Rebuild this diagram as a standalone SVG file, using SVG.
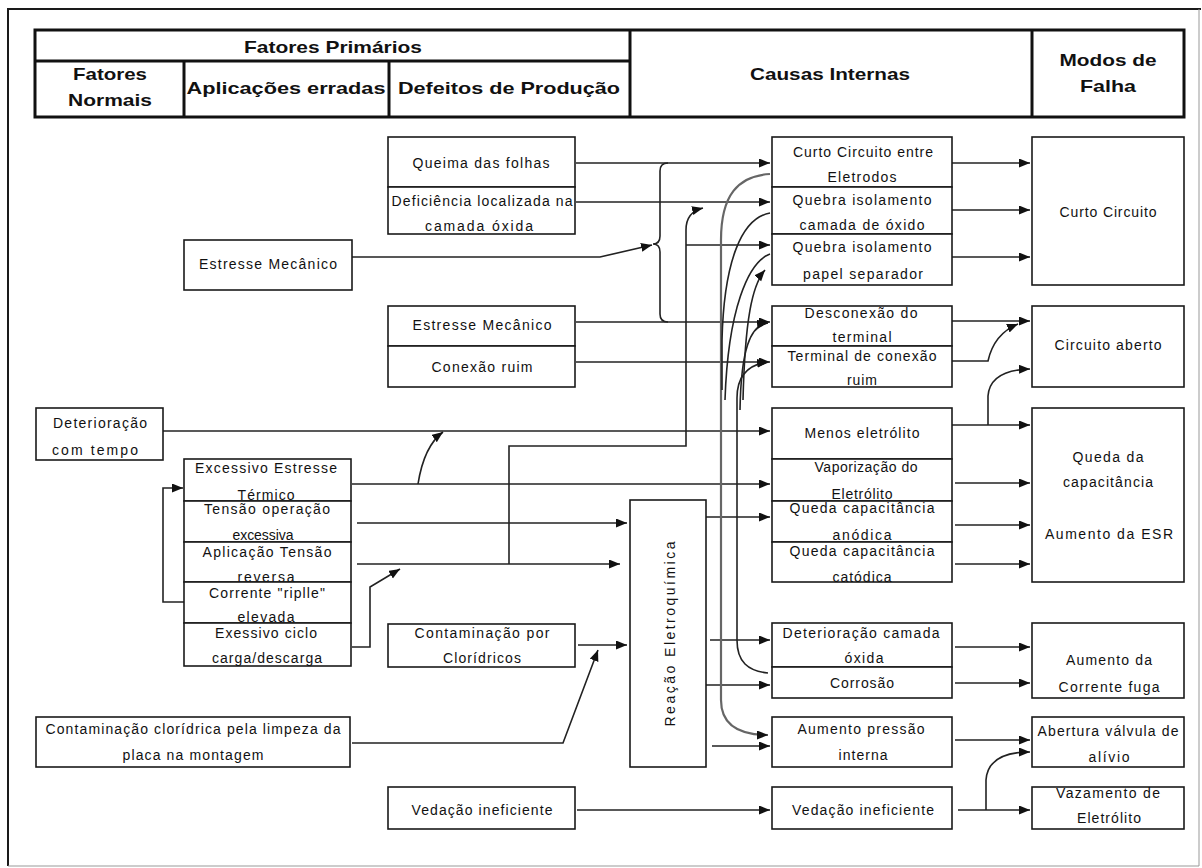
<svg xmlns="http://www.w3.org/2000/svg" width="1202" height="868" viewBox="0 0 1202 868">
  <defs>
    <marker id="arr" markerUnits="userSpaceOnUse" markerWidth="12" markerHeight="10" refX="11" refY="4.5" orient="auto">
      <path d="M0,0 L11,4.5 L0,9 z" fill="#111"/>
    </marker>
    <style>
      .frame { fill: none; stroke: #1a1a1a; stroke-width: 2; }
      .hdr { fill: #fff; stroke: #111; stroke-width: 3; }
      .hline { stroke: #111; stroke-width: 3; }
      .box { fill: #fff; stroke: #1a1a1a; stroke-width: 1.6; }
      .ht { font-family: "Liberation Sans", Arial, sans-serif; font-weight: bold; font-size: 17px; fill: #111; text-anchor: middle; }
      .t { font-family: "Liberation Sans", Arial, sans-serif; font-size: 14px; fill: #111; text-anchor: middle; }
      .c { fill: none; stroke: #222; stroke-width: 1.6; }
      .a { marker-end: url(#arr); }
      .g { stroke: #666; stroke-width: 2.2; }
    </style>
  </defs>
  <rect width="1202" height="868" fill="#fff"/>
  <!-- outer frame -->
  <path class="frame" d="M8 866 V9 H1201"/>
  <path d="M8 866 H1199 V9" fill="none" stroke="#999" stroke-width="1"/>

  <!-- column header table -->
  <g id="header">
    <rect class="hdr" x="35" y="30" width="1149" height="87"/>
    <line class="hline" x1="35" y1="61" x2="630" y2="61"/>
    <line class="hline" x1="184" y1="61" x2="184" y2="117"/>
    <line class="hline" x1="389" y1="61" x2="389" y2="117"/>
    <line class="hline" x1="630" y1="30" x2="630" y2="117"/>
    <line class="hline" x1="1032" y1="30" x2="1032" y2="117"/>
    <text class="ht" x="333" y="53" textLength="178" lengthAdjust="spacingAndGlyphs">Fatores Primários</text>
    <text class="ht" x="110" y="80" textLength="74" lengthAdjust="spacingAndGlyphs">Fatores</text>
    <text class="ht" x="110" y="106" textLength="84" lengthAdjust="spacingAndGlyphs">Normais</text>
    <text class="ht" x="286" y="94" textLength="199" lengthAdjust="spacingAndGlyphs">Aplicações erradas</text>
    <text class="ht" x="509" y="94" textLength="222" lengthAdjust="spacingAndGlyphs">Defeitos de Produção</text>
    <text class="ht" x="830" y="80" textLength="160" lengthAdjust="spacingAndGlyphs">Causas Internas</text>
    <text class="ht" x="1108" y="66" textLength="97" lengthAdjust="spacingAndGlyphs">Modos de</text>
    <text class="ht" x="1108" y="92" textLength="56" lengthAdjust="spacingAndGlyphs">Falha</text>
  </g>

  <!-- connectors -->
  <g id="connectors">
    <!-- production defects to internal causes -->
    <path class="c a" d="M576 163 H770"/>
    <path class="c a" d="M576 202 H770"/>
    <path class="c a" d="M576 322 H770"/>
    <path class="c a" d="M576 362 H770"/>
    <path class="c" d="M668 163 Q660 163 660 171 V236 Q660 244 653 244 Q660 244 660 252 V314 Q660 322 668 322"/>
    <path class="c a" d="M352 257 H600 L652 245"/>
    <!-- internal causes to failure modes -->
    <path class="c a" d="M952 163 H1030"/>
    <path class="c a" d="M952 210 H1030"/>
    <path class="c a" d="M952 257 H1030"/>
    <path class="c a" d="M952 321 H1030"/>
    <path class="c a" d="M952 361 H988 Q994 334 1018 324"/>
    <path class="c a" d="M952 425 H1030"/>
    <path class="c a" d="M988 425 V396 Q990 370 1030 369"/>
    <path class="c a" d="M955 483 H1030"/>
    <path class="c a" d="M955 525 H1030"/>
    <path class="c a" d="M955 564 H1030"/>
    <path class="c a" d="M955 647 H1030"/>
    <path class="c a" d="M955 683 H1030"/>
    <path class="c a" d="M955 740 H1030"/>
    <path class="c a" d="M958 810 H1030"/>
    <path class="c a" d="M986 810 V780 Q988 752 1030 752"/>
    <!-- sealing and contamination -->
    <path class="c a" d="M577 810 H770"/>
    <path class="c a" d="M578 645 H627"/>
    <path class="c a" d="M352 743 H563 L598 650"/>
    <!-- normal factors and wrong applications -->
    <path class="c a" d="M163 431 H770"/>
    <path class="c a" d="M352 484 H770"/>
    <path class="c a" d="M418 484 Q424 446 443 432"/>
    <path class="c a" d="M357 523 H627"/>
    <path class="c a" d="M357 564 H620"/>
    <path class="c a" d="M509 564 V446 H686 V230 Q686 212 703 208"/>
    <path class="c a" d="M686 245 H770"/>
    <path class="c a" d="M352 647 H370 V587 L400 569"/>
    <path class="c a" d="M184 602 H163 V488 H183"/>
    <!-- electrochemical reaction outputs -->
    <path class="c a" d="M706 517 H770"/>
    <path class="c a" d="M710 640 H770"/>
    <path class="c a" d="M706 685 H770"/>
    <path class="c a" d="M712 746 H770"/>
    <!-- feedback bundle between internal causes -->
    <path class="c g a" d="M770 174 C738 176 721 195 721 240 V700 Q721 735 768 735"/>
    <path class="c" d="M770 213 C742 218 724 260 722 340 V390"/>
    <path class="c" d="M770 254 C748 262 728 310 725 400"/>
    <path class="c a" d="M768 673 C748 671 737 662 737 640 V398 Q737 366 768 362"/>
    <path class="c a" d="M740 410 C741 350 750 325 768 323"/>
    <path class="c a" d="M743 400 C745 320 752 285 765 270"/>
  </g>

  <!-- normal factors -->
  <g id="n-estresse-normal">
    <rect class="box" x="184" y="240" width="168" height="50"/>
    <text class="t" x="268" y="269" textLength="138">Estresse Mecânico</text>
  </g>
  <g id="n-deterioracao-tempo">
    <rect class="box" x="36" y="408" width="127" height="52"/>
    <text class="t" x="100" y="428" textLength="94">Deterioração</text>
    <text class="t" x="95" y="455" textLength="86">com tempo</text>
  </g>
  <g id="n-contaminacao-limpeza">
    <rect class="box" x="36" y="717" width="314" height="50"/>
    <text class="t" x="193" y="734" textLength="295">Contaminação clorídrica pela limpeza da</text>
    <text class="t" x="193" y="760" textLength="141">placa na montagem</text>
  </g>

  <!-- wrong applications -->
  <g id="n-termico">
    <rect class="box" x="184" y="459" width="167" height="42"/>
    <text class="t" x="266" y="473" textLength="142">Excessivo Estresse</text>
    <text class="t" x="266" y="500" textLength="57">Térmico</text>
  </g>
  <g id="n-tensao-operacao">
    <rect class="box" x="184" y="501" width="167" height="41"/>
    <text class="t" x="267" y="514" textLength="126">Tensão operação</text>
    <text class="t" x="263" y="540" textLength="61">excessiva</text>
  </g>
  <g id="n-tensao-reversa">
    <rect class="box" x="184" y="542" width="167" height="40"/>
    <text class="t" x="267" y="557" textLength="129">Aplicação Tensão</text>
    <text class="t" x="266" y="582" textLength="57">reversa</text>
  </g>
  <g id="n-ripple">
    <rect class="box" x="184" y="582" width="167" height="41"/>
    <text class="t" x="267" y="598" textLength="116">Corrente "riplle"</text>
    <text class="t" x="266" y="622" textLength="57">elevada</text>
  </g>
  <g id="n-ciclo">
    <rect class="box" x="184" y="623" width="167" height="43"/>
    <text class="t" x="266" y="638" textLength="102">Exessivo ciclo</text>
    <text class="t" x="267" y="663" textLength="110">carga/descarga</text>
  </g>

  <!-- production defects -->
  <g id="n-queima">
    <rect class="box" x="388" y="137" width="187" height="50"/>
    <text class="t" x="481" y="168" textLength="137">Queima das folhas</text>
  </g>
  <g id="n-deficiencia">
    <rect class="box" x="388" y="187" width="187" height="47"/>
    <text class="t" x="482" y="206" textLength="181">Deficiência localizada na</text>
    <text class="t" x="479" y="231" textLength="108">camada óxida</text>
  </g>
  <g id="n-estresse-producao">
    <rect class="box" x="388" y="306" width="187" height="40"/>
    <text class="t" x="482" y="330" textLength="139">Estresse Mecânico</text>
  </g>
  <g id="n-conexao">
    <rect class="box" x="388" y="346" width="187" height="41"/>
    <text class="t" x="482" y="372" textLength="101">Conexão ruim</text>
  </g>
  <g id="n-contaminacao-cloridricos">
    <rect class="box" x="388" y="624" width="187" height="43"/>
    <text class="t" x="482" y="638" textLength="135">Contaminação por</text>
    <text class="t" x="482" y="663" textLength="78">Clorídricos</text>
  </g>
  <g id="n-vedacao-producao">
    <rect class="box" x="388" y="787" width="187" height="42"/>
    <text class="t" x="482" y="815" textLength="141">Vedação ineficiente</text>
  </g>

  <!-- electrochemical reaction -->
  <g id="n-reacao">
    <rect class="box" x="630" y="500" width="76" height="267"/>
    <text class="t" x="0" y="0" font-size="16" textLength="185" transform="translate(675 634) rotate(-90)">Reação Eletroquímica</text>
  </g>

  <!-- internal causes -->
  <g id="n-cc-eletrodos">
    <rect class="box" x="772" y="137" width="180" height="50"/>
    <text class="t" x="863" y="157" textLength="140">Curto Circuito entre</text>
    <text class="t" x="862" y="182" textLength="69">Eletrodos</text>
  </g>
  <g id="n-quebra-oxido">
    <rect class="box" x="772" y="187" width="180" height="47"/>
    <text class="t" x="862" y="205" textLength="139">Quebra isolamento</text>
    <text class="t" x="862" y="230" textLength="125">camada de óxido</text>
  </g>
  <g id="n-quebra-papel">
    <rect class="box" x="772" y="234" width="180" height="51"/>
    <text class="t" x="862" y="252" textLength="139">Quebra isolamento</text>
    <text class="t" x="863" y="279" textLength="120">papel separador</text>
  </g>
  <g id="n-desconexao">
    <rect class="box" x="772" y="306" width="180" height="40"/>
    <text class="t" x="861" y="318" textLength="113">Desconexão do</text>
    <text class="t" x="862" y="342" textLength="59">terminal</text>
  </g>
  <g id="n-terminal">
    <rect class="box" x="772" y="346" width="180" height="41"/>
    <text class="t" x="862" y="361" textLength="149">Terminal de conexão</text>
    <text class="t" x="862" y="385" textLength="30">ruim</text>
  </g>
  <g id="n-menos-eletrolito">
    <rect class="box" x="772" y="408" width="180" height="51"/>
    <text class="t" x="862" y="438" textLength="115">Menos eletrólito</text>
  </g>
  <g id="n-vaporizacao">
    <rect class="box" x="772" y="459" width="180" height="42"/>
    <text class="t" x="866" y="472" textLength="103">Vaporização do</text>
    <text class="t" x="862" y="499" textLength="61">Eletrólito</text>
  </g>
  <g id="n-anodica">
    <rect class="box" x="772" y="501" width="180" height="41"/>
    <text class="t" x="862" y="513" textLength="145">Queda capacitância</text>
    <text class="t" x="862" y="540" textLength="59">anódica</text>
  </g>
  <g id="n-catodica">
    <rect class="box" x="772" y="542" width="180" height="40"/>
    <text class="t" x="862" y="556" textLength="145">Queda capacitância</text>
    <text class="t" x="862" y="582" textLength="59">catódica</text>
  </g>
  <g id="n-det-oxido">
    <rect class="box" x="772" y="623" width="180" height="44"/>
    <text class="t" x="861" y="638" textLength="157">Deterioração camada</text>
    <text class="t" x="864" y="663" textLength="39">óxida</text>
  </g>
  <g id="n-corrosao">
    <rect class="box" x="772" y="667" width="180" height="31"/>
    <text class="t" x="862" y="688" textLength="64">Corrosão</text>
  </g>
  <g id="n-pressao">
    <rect class="box" x="772" y="717" width="180" height="50"/>
    <text class="t" x="861" y="734" textLength="127">Aumento pressão</text>
    <text class="t" x="863" y="760" textLength="49">interna</text>
  </g>
  <g id="n-vedacao-interna">
    <rect class="box" x="772" y="787" width="180" height="42"/>
    <text class="t" x="863" y="815" textLength="142">Vedação ineficiente</text>
  </g>

  <!-- failure modes -->
  <g id="m-curto">
    <rect class="box" x="1032" y="137" width="152" height="148"/>
    <text class="t" x="1108" y="217" textLength="97">Curto Circuito</text>
  </g>
  <g id="m-aberto">
    <rect class="box" x="1032" y="306" width="152" height="81"/>
    <text class="t" x="1108" y="350" textLength="107">Circuito aberto</text>
  </g>
  <g id="m-capacitancia">
    <rect class="box" x="1032" y="408" width="152" height="174"/>
    <text class="t" x="1108" y="462" textLength="71">Queda da</text>
    <text class="t" x="1108" y="487" textLength="90">capacitância</text>
    <text class="t" x="1109" y="539" textLength="128">Aumento da ESR</text>
  </g>
  <g id="m-fuga">
    <rect class="box" x="1032" y="623" width="152" height="75"/>
    <text class="t" x="1109" y="665" textLength="86">Aumento da</text>
    <text class="t" x="1109" y="692" textLength="101">Corrente fuga</text>
  </g>
  <g id="m-valvula">
    <rect class="box" x="1032" y="717" width="152" height="50"/>
    <text class="t" x="1108" y="736" textLength="141">Abertura válvula de</text>
    <text class="t" x="1109" y="762" textLength="41">alívio</text>
  </g>
  <g id="m-vazamento">
    <rect class="box" x="1032" y="787" width="152" height="42"/>
    <text class="t" x="1108" y="798" textLength="104">Vazamento de</text>
    <text class="t" x="1109" y="823" textLength="64">Eletrólito</text>
  </g>
</svg>
